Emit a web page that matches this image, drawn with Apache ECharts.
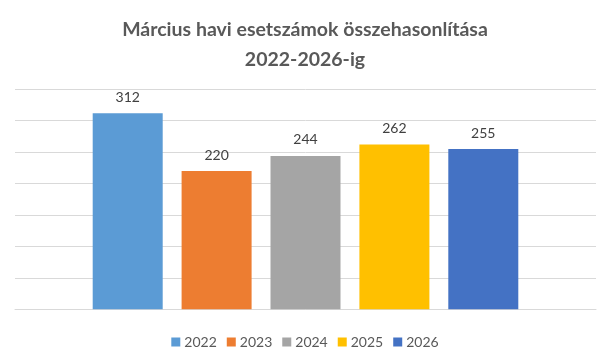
<!DOCTYPE html>
<html>
<head>
<meta charset="utf-8">
<script src="https://cdn.jsdelivr.net/npm/echarts@6/dist/echarts.min.js"></script>
<style>
html,body{margin:0;padding:0;background:#fff;}
#chart{width:610px;height:363px;}
</style>
</head>
<body>
<div id="chart"></div>
<script>
var years = ['2022', '2023', '2024', '2025', '2026'];
var values = [312, 220, 244, 262, 255];
var colors = ['#5B9BD5', '#ED7D31', '#A5A5A5', '#FFC000', '#4472C4'];
var titleText = 'Március havi esetszámok összehasonlítása\n2022-2026-ig';

var chart = echarts.init(document.getElementById('chart'), null, {renderer: 'canvas'});
var FONT = 'Lato, "Open Sans", sans-serif';
var series = years.map(function (y, i) {
  return {
    name: y,
    type: 'bar',
    data: [values[i]],
    barWidth: 70,
    barGap: '27%',
    itemStyle: {color: colors[i]},
    label: {
      show: true,
      position: 'top',
      distance: 9,
      fontFamily: FONT,
      fontSize: 14,
      color: '#404040'
    }
  };
});
chart.setOption({
  animation: false,
  title: {
    text: titleText,
    left: 'center',
    top: 10,
    textStyle: {
      fontFamily: FONT,
      fontSize: 19.5,
      fontWeight: 'bold',
      color: '#595959',
      lineHeight: 30
    }
  },
  legend: {
    data: years,
    bottom: 9,
    left: 'center',
    icon: 'rect',
    itemWidth: 9,
    itemHeight: 9,
    itemGap: 10,
    textStyle: {fontFamily: FONT, fontSize: 14, color: '#595959', padding: [0, 0, 0, -1]}
  },
  grid: {left: 15, right: 14, top: 89.3, bottom: 53.7, containLabel: false},
  xAxis: {
    type: 'category',
    data: [''],
    axisLine: {lineStyle: {color: '#D9D9D9'}},
    axisTick: {show: false},
    axisLabel: {show: false}
  },
  yAxis: {
    type: 'value',
    min: 0,
    max: 350,
    interval: 50,
    axisLine: {show: false},
    axisTick: {show: false},
    axisLabel: {show: false},
    splitLine: {lineStyle: {color: '#D9D9D9', width: 1}}
  },
  series: series
});
</script>
</body>
</html>
